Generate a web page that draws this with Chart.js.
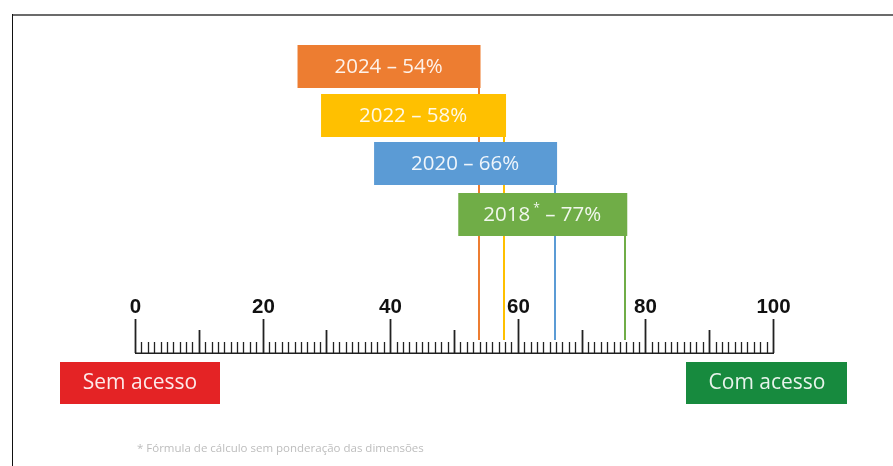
<!DOCTYPE html>
<html>
<head>
<meta charset="utf-8">
<script src="https://cdn.jsdelivr.net/npm/chart.js@4"></script>
<style>
  html, body { margin: 0; padding: 0; background: #fff; }
  #wrap { width: 893px; height: 466px; position: relative; }
</style>
</head>
<body>
<div id="wrap"><canvas id="chart" width="893" height="466"></canvas></div>
<script>
// index values per survey year
const years = ['2024', '2022', '2020', '2018'];
const values = [54, 58, 66, 77];
const starred = [false, false, false, true];
const axisLabels = [0, 20, 40, 60, 80, 100];
const endLabels = ['Sem acesso', 'Com acesso'];
const footnote = '* Fórmula de cálculo sem ponderação das dimensões';

// look
const boxColors = ['#ED7D31', '#FFC000', '#5B9BD5', '#70AD47'];
const boxWidths = [182, 184, 182, 168];
const boxTops = [45, 94, 142, 193];
const boxHeight = 43;
const baseY = 353;
const labelFont = '20.5px "Open Sans", sans-serif';

const rulerPlugin = {
    id: 'ruler',
    afterDraw(chart) {
        const { ctx } = chart;
        const x = chart.scales.x;
        const px = v => Math.round(x.getPixelForValue(v)) + 0.5;

        ctx.save();

        // frame
        ctx.fillStyle = '#6b6b6b';
        ctx.fillRect(12, 14, 881, 2);
        ctx.fillStyle = '#111';
        ctx.fillRect(12, 14, 1, 452);

        // year boxes and drop lines
        ctx.textBaseline = 'middle';
        years.forEach((yr, i) => {
            const right = x.getPixelForValue(values[i]);
            const left = right - boxWidths[i];
            const top = boxTops[i];
            ctx.strokeStyle = boxColors[i];
            ctx.lineWidth = 2;
            ctx.beginPath();
            ctx.moveTo(Math.round(right) - 1, top + boxHeight);
            ctx.lineTo(Math.round(right) - 1, baseY - 13);
            ctx.stroke();

            ctx.fillStyle = boxColors[i];
            ctx.fillRect(left, top, right - left + 1, boxHeight);

            ctx.fillStyle = 'rgba(255,255,255,0.9)';
            ctx.font = labelFont;
            const tail = ' – ' + values[i] + '%';
            const cx = (left + right) / 2;
            const cy = top + boxHeight / 2 + 1;
            if (starred[i]) {
                const w1 = ctx.measureText(yr).width;
                ctx.font = '12px "Open Sans", sans-serif';
                const ws = ctx.measureText(' *').width;
                ctx.font = labelFont;
                const w2 = ctx.measureText(tail).width;
                let sx = cx - (w1 + ws + w2) / 2;
                ctx.textAlign = 'left';
                ctx.fillText(yr, sx, cy);
                sx += w1;
                ctx.font = '12px "Open Sans", sans-serif';
                ctx.fillText(' *', sx, cy - 7);
                sx += ws;
                ctx.font = labelFont;
                ctx.fillText(tail, sx, cy);
            } else {
                ctx.textAlign = 'center';
                ctx.fillText(yr + tail, cx, cy);
            }
        });

        // ruler ticks
        ctx.strokeStyle = '#222';
        for (let v = 0; v <= 100; v++) {
            const top = v % 20 === 0 ? baseY - 34 : v % 10 === 0 ? baseY - 23 : baseY - 11;
            ctx.lineWidth = v % 10 === 0 ? 1.8 : 1.3;
            ctx.beginPath();
            ctx.moveTo(px(v), top);
            ctx.lineTo(px(v), baseY);
            ctx.stroke();
        }
        ctx.fillStyle = '#4c7a3c';
        ctx.fillRect(px(0) - 0.5, baseY, px(100) - px(0) + 1, 1);
        ctx.fillStyle = '#1f1f1f';
        ctx.fillRect(px(0) - 0.5, baseY - 0.5, px(100) - px(0) + 1, 1.5);

        ctx.fillStyle = '#111';
        ctx.font = 'bold 20.5px "Liberation Sans", Arial, sans-serif';
        ctx.textAlign = 'center';
        ctx.textBaseline = 'middle';
        axisLabels.forEach(v => ctx.fillText(String(v), px(v), baseY - 46));

        // end labels
        ctx.font = '21px "Open Sans", sans-serif';
        ctx.fillStyle = '#E42325';
        ctx.fillRect(60, 362, 160, 42);
        ctx.fillStyle = 'rgba(255,255,255,0.9)';
        ctx.fillText(endLabels[0], 140, 383);
        ctx.fillStyle = '#178A3E';
        ctx.fillRect(686, 362, 161, 42);
        ctx.fillStyle = 'rgba(255,255,255,0.9)';
        ctx.fillText(endLabels[1], 767, 383);

        // footnote
        ctx.font = '11.5px "Open Sans", sans-serif';
        ctx.fillStyle = '#bdbdbd';
        ctx.textAlign = 'left';
        ctx.fillText(footnote, 137, 449);

        ctx.restore();
    }
};

new Chart(document.getElementById('chart'), {
    type: 'scatter',
    data: { datasets: [] },
    options: {
        responsive: false,
        animation: false,
        events: [],
        layout: { padding: { left: 135, right: 120, top: 0, bottom: 0 } },
        plugins: { legend: { display: false }, tooltip: { enabled: false } },
        scales: {
            x: { type: 'linear', min: 0, max: 100, display: false },
            y: { type: 'linear', min: 0, max: 1, display: false }
        }
    },
    plugins: [rulerPlugin]
});
</script>
</body>
</html>
